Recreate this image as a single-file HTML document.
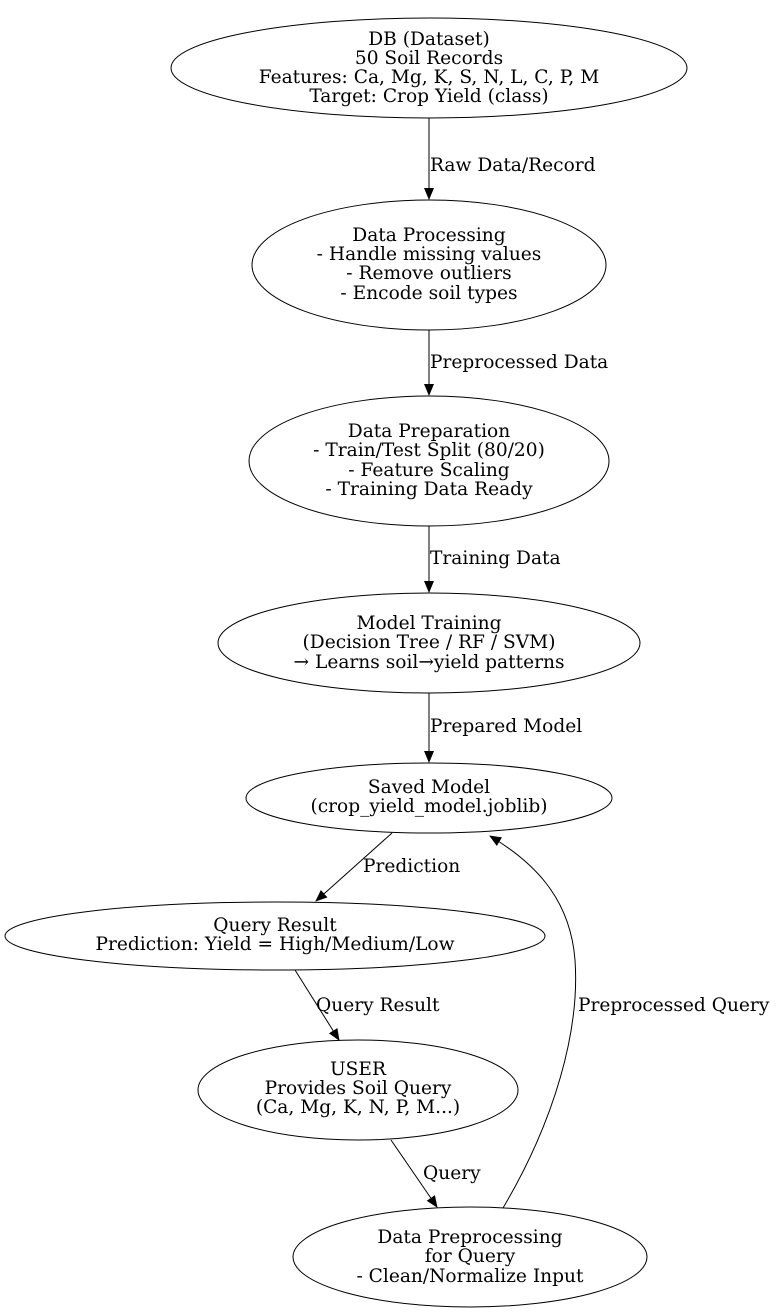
<!DOCTYPE html>
<html><head><meta charset="utf-8"><style>
html,body{margin:0;padding:0;background:#fff;}
svg{display:block;}
text{font-family:"DejaVu Serif",serif;font-size:18.6px;fill:#000;}
.c{text-anchor:middle;}
</style></head><body>
<svg width="776" height="1314" viewBox="0 0 776 1314" xmlns="http://www.w3.org/2000/svg">
<defs><marker id="a" markerWidth="12" markerHeight="10" refX="11" refY="5" orient="auto" markerUnits="userSpaceOnUse"><path d="M0,0 L12,5 L0,10 z" fill="#000"/></marker></defs>
<g fill="none" stroke="#000" stroke-width="1">
<ellipse cx="429" cy="68" rx="258" ry="50"/>
<ellipse cx="429" cy="265" rx="177" ry="65"/>
<ellipse cx="429" cy="461" rx="180" ry="65"/>
<ellipse cx="429" cy="643" rx="211" ry="50"/>
<ellipse cx="429" cy="798" rx="183" ry="35"/>
<ellipse cx="275" cy="936" rx="270" ry="34"/>
<ellipse cx="358" cy="1090" rx="160" ry="50"/>
<ellipse cx="470" cy="1257" rx="177" ry="50"/>
<line x1="429" y1="118" x2="429" y2="199" marker-end="url(#a)"/>
<line x1="429" y1="330" x2="429" y2="395" marker-end="url(#a)"/>
<line x1="429" y1="526" x2="429" y2="592" marker-end="url(#a)"/>
<line x1="429" y1="693" x2="429" y2="762" marker-end="url(#a)"/>
<line x1="392" y1="833" x2="316" y2="901" marker-end="url(#a)"/>
<line x1="295" y1="970" x2="339" y2="1040" marker-end="url(#a)"/>
<line x1="391" y1="1140" x2="437" y2="1207" marker-end="url(#a)"/>
<path d="M503,1208 C555,1120 580,1030 575,960 C570,895 530,860 490,836" marker-end="url(#a)"/>
</g>
<text class="c" x="429" y="45">DB (Dataset)</text>
<text class="c" x="429" y="64">50 Soil Records</text>
<text class="c" x="429" y="83">Features: Ca, Mg, K, S, N, L, C, P, M</text>
<text class="c" x="429" y="102">Target: Crop Yield (class)</text>
<text x="430" y="171">Raw Data/Record</text>
<text class="c" x="429" y="241">Data Processing</text>
<text class="c" x="429" y="260">- Handle missing values</text>
<text class="c" x="429" y="279">- Remove outliers</text>
<text class="c" x="429" y="299">- Encode soil types</text>
<text x="430" y="368">Preprocessed Data</text>
<text class="c" x="429" y="437">Data Preparation</text>
<text class="c" x="429" y="456">- Train/Test Split (80/20)</text>
<text class="c" x="429" y="476">- Feature Scaling</text>
<text class="c" x="429" y="495">- Training Data Ready</text>
<text x="430" y="564">Training Data</text>
<text class="c" x="429" y="629">Model Training</text>
<text class="c" x="429" y="648">(Decision Tree / RF / SVM)</text>
<text class="c" x="429" y="668">→ Learns soil→yield patterns</text>
<text x="430" y="732">Prepared Model</text>
<text class="c" x="429" y="793">Saved Model</text>
<text class="c" x="429" y="812">(crop_yield_model.joblib)</text>
<text x="363" y="872">Prediction</text>
<text class="c" x="275" y="931">Query Result</text>
<text class="c" x="275" y="950">Prediction: Yield = High/Medium/Low</text>
<text x="316" y="1011">Query Result</text>
<text x="578" y="1011">Preprocessed Query</text>
<text class="c" x="358" y="1075">USER</text>
<text class="c" x="358" y="1094">Provides Soil Query</text>
<text class="c" x="358" y="1113">(Ca, Mg, K, N, P, M...)</text>
<text x="423" y="1179">Query</text>
<text class="c" x="470" y="1243">Data Preprocessing</text>
<text class="c" x="470" y="1262">for Query</text>
<text class="c" x="470" y="1282">- Clean/Normalize Input</text>
</svg>
</body></html>
